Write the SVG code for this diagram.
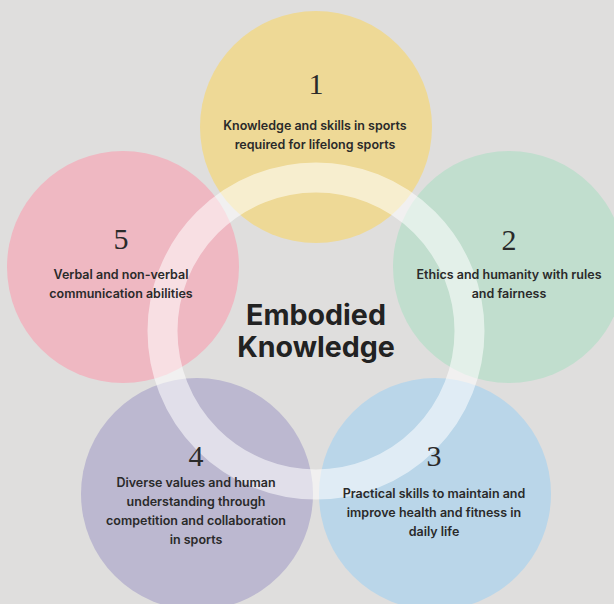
<svg xmlns="http://www.w3.org/2000/svg" width="614" height="604" viewBox="0 0 614 604">
<style>
.num{font-family:"Liberation Serif","DejaVu Serif",serif;font-size:30px;fill:#2a2a2a;text-anchor:middle}
.lbl{font-family:Inter,"Liberation Sans",sans-serif;font-size:12.5px;font-weight:600;fill:#2a2a2a;text-anchor:middle}
.title{font-family:Inter,"Liberation Sans",sans-serif;font-size:28.6px;font-weight:700;fill:#222;text-anchor:middle}
</style>
<rect width="614" height="604" fill="#dfdedd"/>
<g id="node1"><circle cx="316" cy="127" r="116" fill="#eed996"/></g>
<g id="node2"><circle cx="509" cy="267" r="116" fill="#c1dece"/></g>
<g id="node3"><circle cx="435" cy="494" r="116" fill="#bad6e9"/></g>
<g id="node4"><circle cx="197" cy="494" r="116" fill="#bcb8d0"/></g>
<g id="node5"><circle cx="123" cy="267" r="116" fill="#efb8c2"/></g>
<g id="connectors"><circle cx="316" cy="331" r="153.5" fill="none" stroke="#ffffff" stroke-opacity="0.55" stroke-width="30"/></g>
<g id="labels">
<g id="label1"><text class="num" x="316" y="94">1</text><text class="lbl" x="315" y="130">Knowledge and skills in sports</text><text class="lbl" x="315" y="149">required for lifelong sports</text></g>
<g id="label2"><text class="num" x="509" y="250">2</text><text class="lbl" x="509" y="279">Ethics and humanity with rules</text><text class="lbl" x="509" y="298">and fairness</text></g>
<g id="label3"><text class="num" x="434" y="466">3</text><text class="lbl" x="434" y="498">Practical skills to maintain and</text><text class="lbl" x="434" y="517">improve health and fitness in</text><text class="lbl" x="434" y="536">daily life</text></g>
<g id="label4"><text class="num" x="196" y="466">4</text><text class="lbl" x="196" y="487">Diverse values and human</text><text class="lbl" x="196" y="506">understanding through</text><text class="lbl" x="196" y="525">competition and collaboration</text><text class="lbl" x="196" y="544">in sports</text></g>
<g id="label5"><text class="num" x="121" y="249">5</text><text class="lbl" x="121" y="279">Verbal and non-verbal</text><text class="lbl" x="121" y="298">communication abilities</text></g>
<g id="center"><text class="title" x="316" y="325">Embodied</text><text class="title" x="316" y="357">Knowledge</text></g>
</g>
</svg>
